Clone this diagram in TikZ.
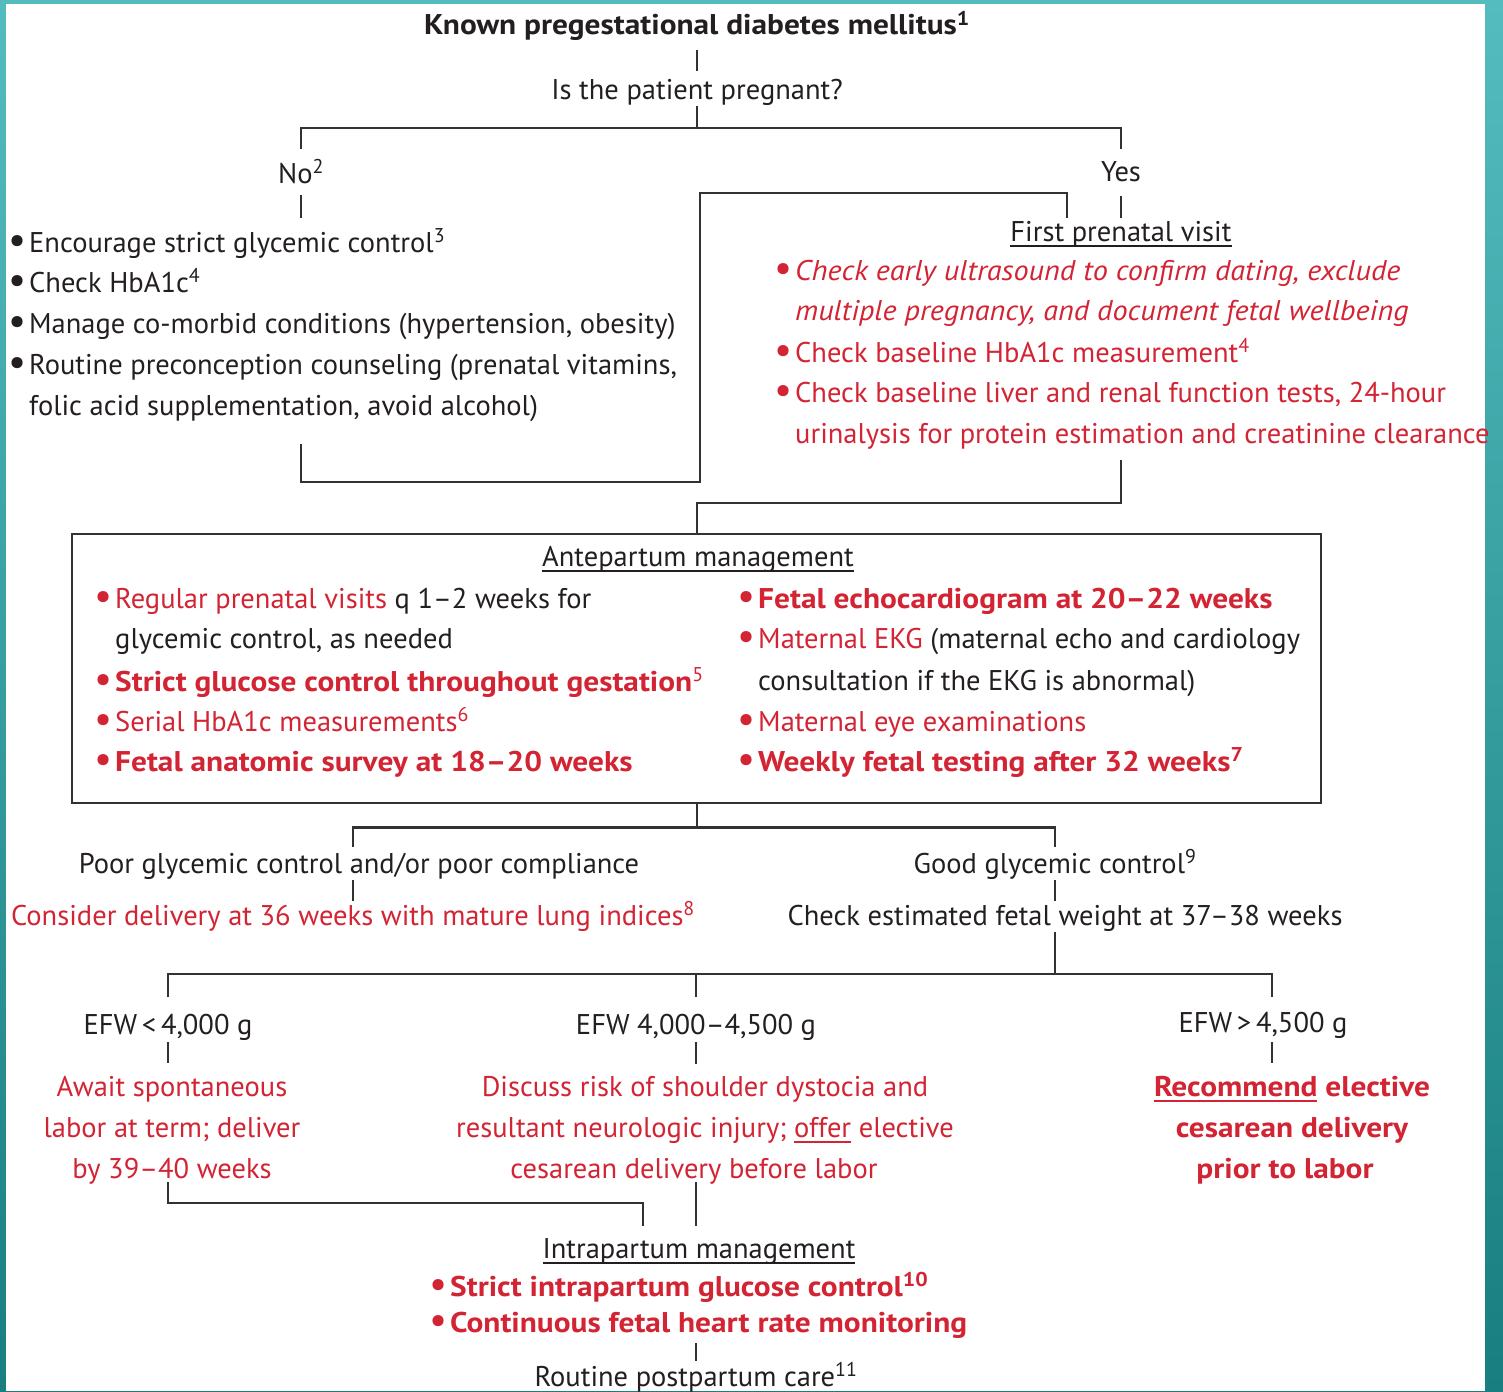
\documentclass[tikz,border=0pt]{standalone}
\usepackage{graphicx}
\usepackage{fontspec}
\setmainfont{PT Sans}[BoldFeatures={FakeStretch=1.1}, ItalicFeatures={FakeStretch=1.06}]

\definecolor{ink}{RGB}{35,31,32}
\definecolor{flowred}{RGB}{211,36,52}
\definecolor{linegray}{RGB}{50,50,50}
\definecolor{tealtop}{RGB}{84,188,190}
\definecolor{tealbot}{RGB}{24,126,128}

\newcommand{\flowfont}{\fontsize{28.5}{32}\selectfont}
\newcommand{\bul}{\makebox[21pt][l]{\mdseries\upshape\raisebox{-1.5pt}{\scalebox{1.4}{•}}}}
\newsavebox{\ulbox}
\newcommand{\uword}[1]{\sbox{\ulbox}{#1}\rlap{\rule[-6pt]{\wd\ulbox}{1.8pt}}\usebox{\ulbox}}

\tikzset{
  lbl/.style={anchor=base, inner sep=0pt, text=ink, font=\flowfont},
  item/.style={lbl, anchor=base west},
  hl/.style={text=flowred},
  conn/.style={draw=linegray, line width=2.4pt},
}

\begin{document}
\begin{tikzpicture}[x=1pt, y=-1pt]
    \useasboundingbox (0,0) rectangle (1503,1391);
    % Frame
    \fill[top color=tealtop, bottom color=tealbot] (0,0) rectangle (1503,1391);
    \fill[white] (6,4) rectangle (1485,1391);

    % Top of the tree
    \node[lbl, font=\flowfont\bfseries] (known) at (697,35) {Known pregestational diabetes mellitus\textsuperscript{1}};
    \node[lbl] (preg) at (697,100) {Is the patient pregnant?};
    \node[lbl] (no) at (301,183) {No\textsuperscript{2}};
    \node[lbl] (yes) at (1121,182) {Yes};

    % Not pregnant
    \node[item] (no1) at (8,252) {\bul Encourage strict glycemic control\textsuperscript{3}};
    \node[item] (no2) at (8,292) {\bul Check HbA1c\textsuperscript{4}};
    \node[item] (no3) at (8,333) {\bul Manage co-morbid conditions (hypertension, obesity)};
    \node[item] (no4) at (8,374) {\bul Routine preconception counseling (prenatal vitamins,};
    \node[item] (no5) at (29,415) {folic acid supplementation, avoid alcohol)};

    % First prenatal visit
    \node[lbl] (visit) at (1121,241) {\uword{First prenatal visit}};
    \node[item, hl, font=\flowfont\itshape] (v1) at (774,280) {\bul Check early ultrasound to confirm dating, exclude};
    \node[item, hl, font=\flowfont\itshape] (v2) at (795,320) {multiple pregnancy, and document fetal wellbeing};
    \node[item, hl] (v3) at (774,362) {\bul Check baseline HbA1c measurement\textsuperscript{4}};
    \node[item, hl] (v4) at (774,402) {\bul Check baseline liver and renal function tests, 24-hour};
    \node[item, hl] (v5) at (795,443) {urinalysis for protein estimation and creatinine clearance};

    % Antepartum box
    \node[draw=linegray, line width=2.4pt, anchor=north west, inner sep=0pt,
          minimum width=1249pt, minimum height=269pt] (ante) at (71,533) {};
    \node[lbl] (antetitle) at (698,566) {\uword{Antepartum management}};
    \node[item] (a1) at (94,608) {\textcolor{flowred}{\bul Regular prenatal visits} q 1–2 weeks for};
    \node[item] (a2) at (115,648) {glycemic control, as needed};
    \node[item, hl, font=\flowfont\bfseries] (a3) at (94,691) {\bul Strict glucose control throughout gestation\textsuperscript{\mdseries 5}};
    \node[item, hl] (a4) at (94,731) {\bul Serial HbA1c measurements\textsuperscript{6}};
    \node[item, hl, font=\flowfont\bfseries] (a5) at (94,771) {\bul Fetal anatomic survey at 18–20 weeks};
    \node[item, hl, font=\flowfont\bfseries] (b1) at (737,608) {\bul Fetal echocardiogram at 20–22 weeks};
    \node[item] (b2) at (737,648) {\textcolor{flowred}{\bul Maternal EKG} (maternal echo and cardiology};
    \node[item] (b3) at (758,690) {consultation if the EKG is abnormal)};
    \node[item, hl] (b4) at (737,731) {\bul Maternal eye examinations};
    \node[item, hl, font=\flowfont\bfseries] (b5) at (737,771) {\bul Weekly fetal testing after 32 weeks\textsuperscript{7}};

    % Glycemic control
    \node[lbl] (poor) at (359,873) {Poor glycemic control and/or poor compliance};
    \node[lbl, hl] (consider) at (353,925) {Consider delivery at 36 weeks with mature lung indices\textsuperscript{8}};
    \node[lbl] (good) at (1055,873) {Good glycemic control\textsuperscript{9}};
    \node[lbl] (efw) at (1065,925) {Check estimated fetal weight at 37–38 weeks};

    % Fetal weight
    \node[lbl] (efwlow) at (168,1034) {EFW\,<\,4,000 g};
    \node[lbl] (efwmid) at (696,1034) {EFW 4,000–4,500 g};
    \node[lbl] (efwhigh) at (1263,1032) {EFW\,>\,4,500 g};
    \node[lbl, hl] (await1) at (172,1096) {Await spontaneous};
    \node[lbl, hl] (await2) at (172,1137) {labor at term; deliver};
    \node[lbl, hl] (await3) at (172,1178) {by 39–40 weeks};
    \node[lbl, hl] (disc1) at (705,1096) {Discuss risk of shoulder dystocia and};
    \node[lbl, hl] (disc2) at (705,1137) {resultant neurologic injury; \uword{offer} elective};
    \node[lbl, hl] (disc3) at (694,1178) {cesarean delivery before labor};
    \node[lbl, hl, font=\flowfont\bfseries] (rec1) at (1292,1096) {\uword{Recommend} elective};
    \node[lbl, hl, font=\flowfont\bfseries] (rec2) at (1292,1137) {cesarean delivery};
    \node[lbl, hl, font=\flowfont\bfseries] (rec3) at (1285,1178) {prior to labor};

    % Intrapartum
    \node[lbl] (intra) at (699,1258) {\uword{Intrapartum management}};
    \node[item, hl, font=\flowfont\bfseries] (i1) at (429,1296) {\bul Strict intrapartum glucose control\textsuperscript{10}};
    \node[item, hl, font=\flowfont\bfseries] (i2) at (429,1332) {\bul Continuous fetal heart rate monitoring};
    \node[lbl] (post) at (696,1386) {Routine postpartum care\textsuperscript{11}};

    % Connectors
    \draw[conn] ([yshift=-15pt]known.base) -- ([yshift=29pt]preg.base);
    \draw[conn] ([yshift=-6pt]preg.base) -- ++(0,22) coordinate (pregsplit);
    \draw[conn] ([yshift=34pt]no.base) |- (pregsplit) -| ([yshift=33pt]yes.base);
    \draw[conn] ([yshift=-12pt]no.base) -- ([yshift=34pt]no.base |- no1.base);
    \draw[conn] ([yshift=-14pt]yes.base) -- ([yshift=23pt]visit.base);
    \draw[conn] ([yshift=-29pt]no.base |- no5.base) -- ++(0,38) -| (700,193)
        -| ([xshift=-54pt, yshift=23pt]visit.base);
    \draw[conn] ([yshift=-17pt]visit.base |- v5.base) -- ++(0,43) -| (ante.north);
    \draw[conn] (ante.south) -- ++(0,23) coordinate (antesplit);
    \draw[conn] ([yshift=26pt]poor.base -| consider.base) |- (antesplit) -| ([yshift=26pt]good.base);
    \draw[conn] ([yshift=-7pt]poor.base -| consider.base) -- ([yshift=24pt]consider.base);
    \draw[conn] ([yshift=-7pt]good.base) -- ([yshift=24pt]good.base |- efw.base);
    \draw[conn] ([yshift=-7pt]good.base |- efw.base) -- ++(0,42) coordinate (efwsplit);
    \draw[conn] ([yshift=37pt]efwlow.base) |- (efwsplit) -| ([xshift=9pt, yshift=35pt]efwhigh.base);
    \draw[conn] (efwsplit -| efwmid.base) -- ([yshift=37pt]efwmid.base);
    \draw[conn] ([yshift=-8pt]efwlow.base) -- ([yshift=33pt]efwlow.base |- await1.base);
    \draw[conn] ([yshift=-8pt]efwmid.base) -- ([yshift=32pt]efwmid.base |- disc1.base);
    \draw[conn] ([xshift=9pt, yshift=-10pt]efwhigh.base) -- ([xshift=9pt, yshift=33pt]efwhigh.base |- rec1.base);
    \draw[conn] ([yshift=-4pt]efwlow.base |- await3.base) -- ++(0,21)
        -| ([xshift=-56pt, yshift=32pt]intra.base);
    \draw[conn] ([yshift=-4pt]efwmid.base |- disc3.base) -- ([yshift=32pt]efwmid.base |- intra.base);
    \draw[conn] ([yshift=-11pt]post.base |- i2.base) -- ([yshift=25pt]post.base);
\end{tikzpicture}
\end{document}
